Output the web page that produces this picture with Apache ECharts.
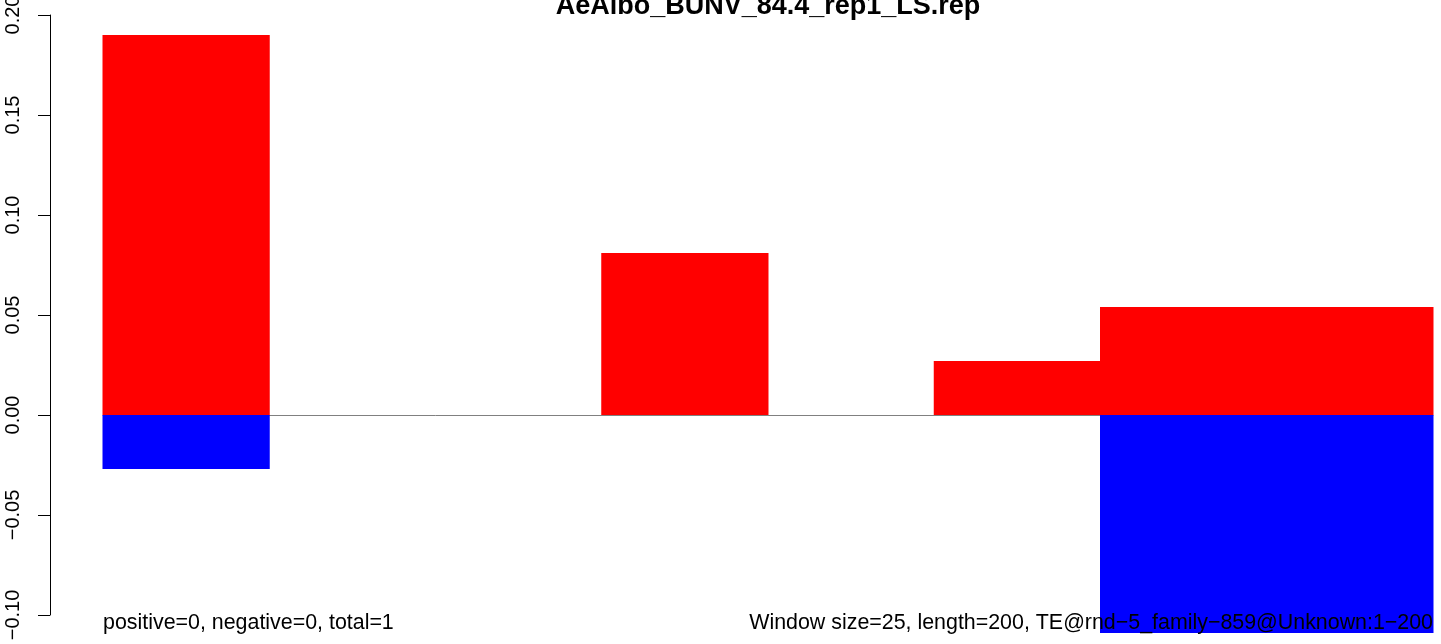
<!DOCTYPE html>
<html>
<head>
<meta charset="utf-8">
<title>AeAlbo_BUNV_84.4_rep1_LS.rep</title>
<script src="https://cdn.jsdelivr.net/npm/echarts@6/dist/echarts.min.js"></script>
<style>
  html, body { margin: 0; padding: 0; background: #fff; }
  #main { width: 1441px; height: 644px; }
</style>
</head>
<body>
<div id="main"></div>
<script>
// window start positions (length 200, window size 25)
var categories = ['1', '26', '51', '76', '101', '126', '151', '176'];
// fraction of positive / negative signal per window
var positiveValues = [0.19, 0, 0, 0.081, 0, 0.027, 0.054, 0.054];
var negativeValues = [-0.027, 0, 0, 0, 0, 0, -0.109, -0.109];
var yTicks = ['−0.10', '−0.05', '0.00', '0.05', '0.10', '0.15', '0.20'];

// empty windows draw nothing (R leaves them blank)
function dropZeros(arr) {
    return arr.map(function (v) { return v === 0 ? '-' : v; });
}

var chart = echarts.init(document.getElementById('main'));

var font = 'Liberation Sans, Arial, Helvetica, sans-serif';

var option = {
    animation: false,
    backgroundColor: '#fff',
    title: {
        text: 'AeAlbo_BUNV_84.4_rep1_LS.rep',
        left: 763,
        textAlign: 'center',
        top: -12,
        textStyle: { fontFamily: font, fontSize: 27, fontWeight: 'bold', color: '#000' }
    },
    grid: { left: 103, right: 8, top: 15, bottom: 29, outerBoundsMode: 'none' },
    xAxis: {
        type: 'category',
        data: categories,
        boundaryGap: true,
        axisLine: { onZero: true, lineStyle: { color: '#808080', width: 1 } },
        axisTick: { show: false },
        axisLabel: { show: false },
        splitLine: { show: false }
    },
    yAxis: {
        type: 'value',
        min: -0.1,
        max: 0.2,
        interval: 0.05,
        offset: 53,
        axisLine: { show: true, lineStyle: { color: '#000', width: 1 } },
        axisTick: { show: true, length: 12, lineStyle: { color: '#000' } },
        splitLine: { show: false },
        axisLabel: {
            rotate: 90,
            margin: 27,
            fontFamily: font,
            fontSize: 20,
            color: '#000',
            formatter: function (v) {
                var i = Math.round((v + 0.1) / 0.05);
                return yTicks[i];
            }
        }
    },
    series: [
        {
            name: 'positive',
            type: 'bar',
            stack: 'signal',
            barWidth: '100.6%',
            clip: false,
            itemStyle: { color: '#ff0000' },
            data: dropZeros(positiveValues)
        },
        {
            name: 'negative',
            type: 'bar',
            stack: 'signal',
            barWidth: '100.6%',
            clip: false,
            itemStyle: { color: '#0000ff' },
            data: dropZeros(negativeValues)
        }
    ],
    graphic: [
        {
            type: 'text',
            left: 103,
            top: 613,
            z: 100,
            style: { text: 'positive=0, negative=0, total=1', font: '21.4px ' + font, fill: '#000' }
        },
        {
            type: 'text',
            right: 8,
            top: 613,
            z: 100,
            style: { text: 'Window size=25, length=200, TE@rnd−5_family−859@Unknown:1−200', font: '21.4px ' + font, fill: '#000' }
        }
    ]
};

chart.setOption(option);
</script>
</body>
</html>
